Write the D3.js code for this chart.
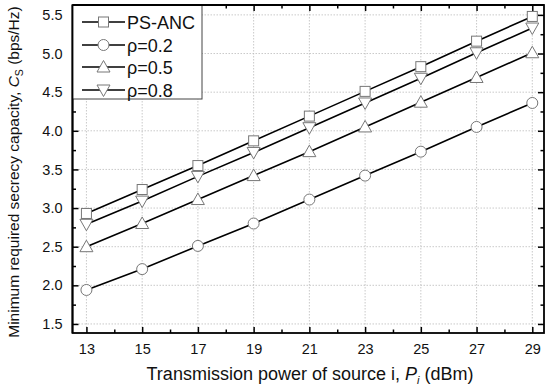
<!DOCTYPE html>
<html><head><meta charset="utf-8">
<script src="https://cdn.jsdelivr.net/npm/d3@7"></script>
<style>body{margin:0;background:#fff}svg{display:block}text{font-family:"Liberation Sans",Arial,sans-serif;fill:#111}</style>
</head><body><svg id="c" width="550" height="388"></svg>
<script>
const xValues = [13, 15, 17, 19, 21, 23, 25, 27, 29];
const psAnc = [2.93, 3.24, 3.55, 3.87, 4.19, 4.51, 4.83, 5.16, 5.48];
const rho02 = [1.94, 2.21, 2.51, 2.80, 3.11, 3.42, 3.73, 4.05, 4.36];
const rho05 = [2.50, 2.80, 3.11, 3.42, 3.73, 4.05, 4.37, 4.69, 5.01];
const rho08 = [2.79, 3.09, 3.41, 3.72, 4.04, 4.36, 4.68, 5.01, 5.33];
const seriesNames = ["PS-ANC", "ρ=0.2", "ρ=0.5", "ρ=0.8"];
const xTicks = [13, 15, 17, 19, 21, 23, 25, 27, 29];
const yTicks = [1.5, 2.0, 2.5, 3.0, 3.5, 4.0, 4.5, 5.0, 5.5];

const svg = d3.select("#c");
const L = 72.5, R = 544, T = 5, B = 333;
const x = d3.scaleLinear().domain([12.5, 29.42]).range([L, R]);
const y = d3.scaleLinear().domain([1.383, 5.628]).range([B, T]);

// grid
const g = svg.append("g");
g.selectAll(".gx").data(xTicks).join("line")
  .attr("x1", d => x(d)).attr("x2", d => x(d)).attr("y1", T).attr("y2", B)
  .attr("stroke", "#bbb").attr("stroke-width", 0.8).attr("stroke-dasharray", "1.5,1.5");
g.selectAll(".gy").data(yTicks).join("line")
  .attr("x1", L).attr("x2", R).attr("y1", d => y(d)).attr("y2", d => y(d))
  .attr("stroke", "#bbb").attr("stroke-width", 0.8).attr("stroke-dasharray", "1.5,1.5");

// axes with inward ticks
const xMinor = d3.range(14, 29, 2);
const yMinor = d3.range(1.75, 5.5, 0.5);
function axisGroup(axis, tr) {
  const a = svg.append("g").attr("transform", tr).call(axis);
  a.select(".domain").remove();
  a.selectAll("line").attr("stroke", "#000").attr("stroke-width", 1.5);
  return a;
}
const FF = "Liberation Sans, Arial, sans-serif";
// bottom
const xb = axisGroup(d3.axisBottom(x).tickValues(xTicks).tickSize(-6).tickPadding(11).tickFormat(d3.format("d")), `translate(0,${B})`);
xb.selectAll("text").attr("font-size", 14.5).attr("font-family", FF);
axisGroup(d3.axisBottom(x).tickValues(xMinor).tickSize(-3.5).tickFormat(""), `translate(0,${B})`);
axisGroup(d3.axisTop(x).tickValues(xTicks).tickSize(-6).tickFormat(""), `translate(0,${T})`);
axisGroup(d3.axisTop(x).tickValues(xMinor).tickSize(-3.5).tickFormat(""), `translate(0,${T})`);
// left
const yl = axisGroup(d3.axisLeft(y).tickValues(yTicks).tickSize(-6).tickPadding(10).tickFormat(d3.format(".1f")), `translate(${L},0)`);
yl.selectAll("text").attr("font-size", 14.5).attr("font-family", FF);
axisGroup(d3.axisLeft(y).tickValues(yMinor).tickSize(-3.5).tickFormat(""), `translate(${L},0)`);
axisGroup(d3.axisRight(y).tickValues(yTicks).tickSize(-6).tickFormat(""), `translate(${R},0)`);
axisGroup(d3.axisRight(y).tickValues(yMinor).tickSize(-3.5).tickFormat(""), `translate(${R},0)`);

// frame
svg.append("rect").attr("x", L).attr("y", T).attr("width", R - L).attr("height", B - T)
  .attr("fill", "none").attr("stroke", "#000").attr("stroke-width", 1.8);

// series
const allSeries = [psAnc, rho02, rho05, rho08];
const shapes = ["square", "circle", "up", "down"];
function marker(sel, shape) {
  if (shape === "square") sel.append("rect").attr("x", -5).attr("y", -5).attr("width", 10).attr("height", 10);
  else if (shape === "circle") sel.append("circle").attr("r", 5.5);
  else if (shape === "up") sel.append("path").attr("d", "M0,-6.5L6.5,5L-6.5,5Z");
  else sel.append("path").attr("d", "M0,6.5L6.5,-5L-6.5,-5Z");
  sel.selectAll("*").attr("fill", "#fff").attr("stroke", "#777").attr("stroke-width", 1);
}
const line = d3.line().x((d, i) => x(xValues[i])).y(d => y(d));
allSeries.forEach((s, k) => {
  svg.append("path").attr("d", line(s)).attr("fill", "none").attr("stroke", "#000").attr("stroke-width", 1.6);
  s.forEach((v, i) => {
    const m = svg.append("g").attr("transform", `translate(${x(xValues[i])},${y(v)})`);
    marker(m, shapes[k]);
  });
});

// legend
const lg = svg.append("g");
lg.append("rect").attr("x", L).attr("y", T).attr("width", 202 - L).attr("height", 99 - T)
  .attr("fill", "#fff").attr("stroke", "#444").attr("stroke-width", 1);
const rowY = [22, 45, 67, 90];
seriesNames.forEach((n, k) => {
  lg.append("line").attr("x1", 82).attr("x2", 125).attr("y1", rowY[k]).attr("y2", rowY[k])
    .attr("stroke", "#000").attr("stroke-width", 1.6);
  const m = lg.append("g").attr("transform", `translate(103.5,${rowY[k]})`);
  marker(m, shapes[k]);
  lg.append("text").attr("x", 127).attr("y", rowY[k] + 6.5).attr("font-size", 18).text(n);
});
svg.append("line").attr("x1", L).attr("x2", R).attr("y1", T).attr("y2", T).attr("stroke", "#000").attr("stroke-width", 1.8);
svg.append("line").attr("x1", L).attr("x2", L).attr("y1", T).attr("y2", B).attr("stroke", "#000").attr("stroke-width", 1.8);

// axis titles
const xt = svg.append("text").attr("x", 310).attr("y", 380).attr("text-anchor", "middle").attr("font-size", 18);
xt.append("tspan").text("Transmission power of source i, ");
xt.append("tspan").attr("font-style", "italic").text("P");
xt.append("tspan").attr("font-style", "italic").attr("font-size", 11).attr("dy", 4).text("i");
xt.append("tspan").attr("dy", -4).text(" (dBm)");

const yt = svg.append("text").attr("transform", "translate(19,172) rotate(-90)").attr("text-anchor", "middle").attr("font-size", 15.5);
yt.append("tspan").text("Minimum required secrecy capacity, ");
yt.append("tspan").attr("font-style", "italic").text("C");
yt.append("tspan").attr("font-size", 10.5).attr("dy", 4).text("S");
yt.append("tspan").attr("dy", -4).text(" (bps/Hz)");
</script></body></html>
